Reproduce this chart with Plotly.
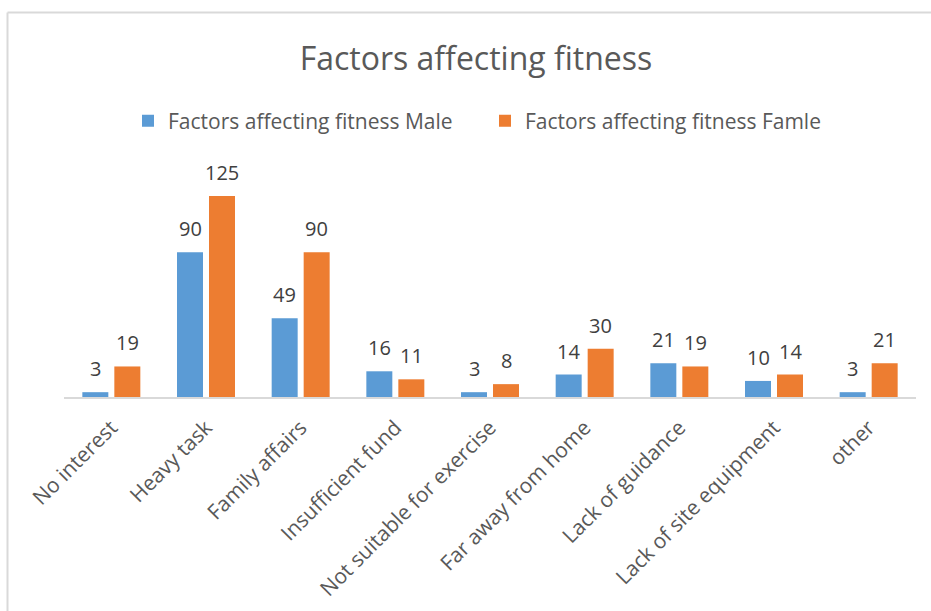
import plotly.graph_objects as go

categories = ["No interest", "Heavy task", "Family affairs", "Insufficient fund",
              "Not suitable for exercise", "Far away from home", "Lack of guidance",
              "Lack of site equipment", "other"]
male = [3, 90, 49, 16, 3, 14, 21, 10, 3]
female = [19, 125, 90, 11, 8, 30, 19, 14, 21]
series_names = ["Factors affecting fitness Male", "Factors affecting fitness Famle"]
colors = ["#5B9BD5", "#ED7D31"]

W, H = 931, 611
ML, MR, MT, MB = 64, 15, 172, 214
PW, PH = W - ML - MR, H - MT - MB

def px_x(p):
    return (p - ML) / PW

def px_y(p):
    return (H - MB - p) / PH

FONT = "Open Sans"
fig = go.Figure()
for name, vals, col in zip(series_names, [male, female], colors):
    fig.add_trace(go.Bar(x=categories, y=vals, name=name, marker_color=col,
                         marker_line_width=0, hoverinfo="x+y"))

annotations = []
for shift, vals in zip([-16, 16], [male, female]):
    for c, v in zip(categories, vals):
        annotations.append(dict(x=c, y=v, xref="x", yref="y", text=str(v),
                                showarrow=False, xshift=shift, yshift=8,
                                yanchor="bottom",
                                font=dict(family=FONT, size=20, color="#404040")))

border = dict(color="#D9D9D9", width=2)
shapes = [
    dict(type="line", xref="paper", yref="paper", x0=px_x(7.5), x1=px_x(7.5),
         y0=px_y(12.5), y1=px_y(H + 5), line=border),
    dict(type="line", xref="paper", yref="paper", x0=px_x(7.5), x1=px_x(W + 5),
         y0=px_y(12.5), y1=px_y(12.5), line=border),
]

fig.update_layout(
    width=W, height=H,
    margin=dict(l=ML, r=MR, t=MT, b=MB, pad=0, autoexpand=False),
    paper_bgcolor="white", plot_bgcolor="white",
    barmode="group", bargap=0.324, bargroupgap=0.1875,
    title=dict(text="Factors affecting fitness", x=px_x(476), xref="paper",
               xanchor="center", y=1 - 59 / H, yanchor="middle",
               font=dict(family=FONT, size=32, color="#595959")),
    legend=dict(orientation="h", x=px_x(485), xanchor="center",
                y=px_y(121), yanchor="middle",
                font=dict(family=FONT, size=21, color="#595959"),
                entrywidth=312, entrywidthmode="pixels",
                bgcolor="rgba(0,0,0,0)"),
    xaxis=dict(showline=True, linecolor="#D9D9D9", linewidth=2,
               ticks="", tickangle=-45, ticklabelstandoff=8, automargin=False,
               tickfont=dict(family=FONT, size=21, color="#595959"),
               showgrid=False, zeroline=False),
    yaxis=dict(range=[0, 140], visible=False, showgrid=False, zeroline=False,
               automargin=False),
    annotations=annotations,
    shapes=shapes,
    font=dict(family=FONT),
)

fig.write_html("out.html")
